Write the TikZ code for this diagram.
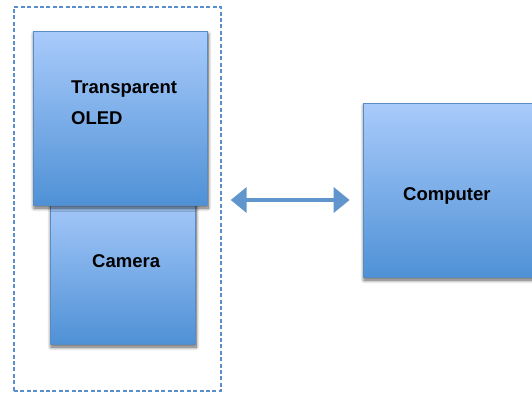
\documentclass[tikz,border=0pt]{standalone}
\usepackage{fontspec}
\setmainfont{Liberation Sans}
\usetikzlibrary{arrows.meta,shadows,shadows.blur,fit}
\definecolor{boxtop}{HTML}{A9CBFB}
\definecolor{boxbot}{HTML}{4F91D6}
\definecolor{boxedge}{HTML}{5A8CC4}
\definecolor{dashcol}{HTML}{5B8FCB}
\definecolor{arrowcol}{HTML}{6096CC}
\tikzset{
 blockbox/.style={draw=boxedge, line width=0.8bp, top color=boxtop, bottom color=boxbot, rectangle, inner sep=0pt,
   blur shadow={shadow xshift=1bp, shadow yshift=-3bp, shadow blur radius=3.5bp, shadow blur steps=10, shadow opacity=65}},
 lbl/.style={anchor=base west, inner sep=0pt, font=\fontsize{18.5bp}{22bp}\selectfont\bfseries},
 groupbox/.style={draw=dashcol, dash pattern=on 4bp off 2.4bp, line width=1.4bp, inner sep=0pt},
}
\begin{document}
\begin{tikzpicture}[x=1bp,y=-1bp]
\useasboundingbox (0,0) rectangle (532,393);
\node[blockbox, fit={(50,195) (195,344)}] (camera) {};
\node[blockbox, fit={(33,31) (207,205)}] (oled) {};
\node[blockbox, fit={(363,103) (548,277)}] (computer) {};
\node[groupbox, fit={(14,7) (221,391)}] (group) {};
\node[lbl] (t1) at (71,93) {Transparent};
\node[lbl] (t2) at (71,124) {OLED};
\node[lbl] (t3) at (92,267) {Camera};
\node[lbl] (t4) at (403,200) {Computer};
\coordinate (arrowy) at (0,200);
\draw[arrowcol, line width=4.3bp, shorten <=9bp, shorten >=13bp,
  {Triangle[width=25bp,length=16bp]}-{Triangle[width=25bp,length=16bp]}]
  (group.east |- arrowy) -- (computer.west |- arrowy);
\end{tikzpicture}
\end{document}
